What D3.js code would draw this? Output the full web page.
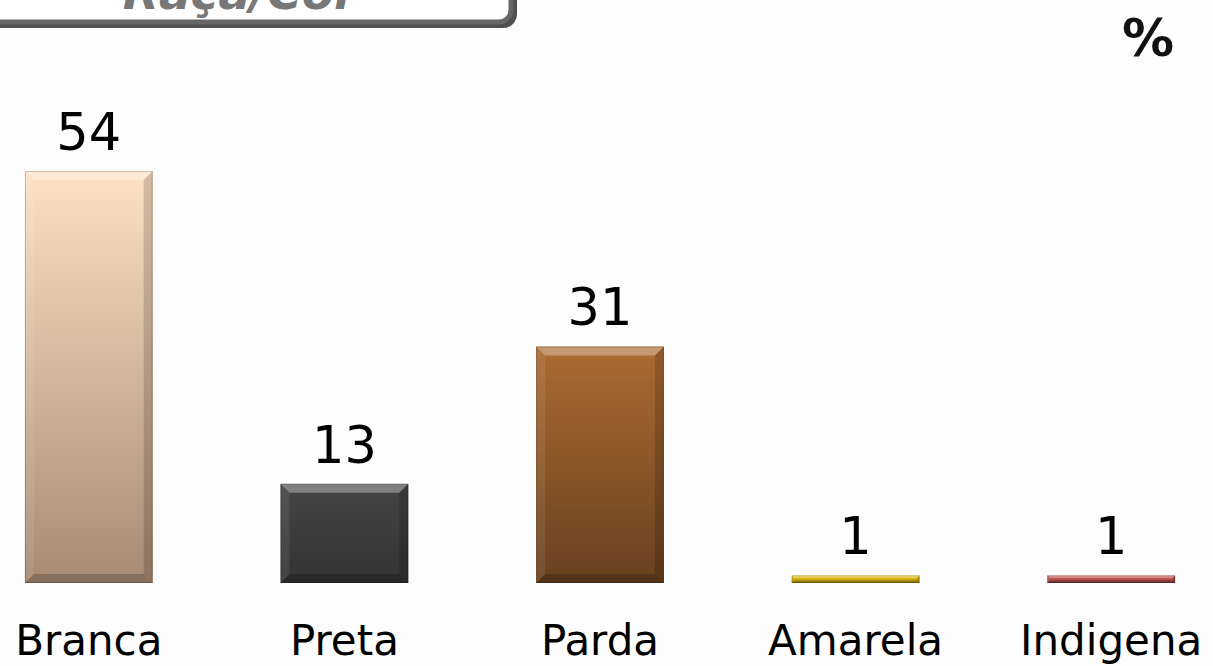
<!DOCTYPE html>
<html>
<head>
<meta charset="utf-8">
<script src="https://cdn.jsdelivr.net/npm/d3@7"></script>
<style>
  body { margin: 0; background: #fdfdfd; }
  svg { display: block; font-family: "DejaVu Sans", Verdana, sans-serif; }
</style>
</head>
<body>
<script>
// dados
const categories = ["Branca", "Preta", "Parda", "Amarela", "Indigena"];
const values = [54, 13, 31, 1, 1];
const topColors = ["#fde1c2", "#454545", "#ad6b31", "#f7d21a", "#d96464"];
const bottomColors = ["#a78a74", "#333333", "#684120", "#a88500", "#8e3a3a"];

const W = 1213, H = 666;
const baseline = 583;

const svg = d3.select("body").append("svg")
  .attr("width", W).attr("height", H);

const defs = svg.append("defs");
categories.forEach((c, i) => {
  const g = defs.append("linearGradient")
    .attr("id", "grad" + i)
    .attr("x1", 0).attr("y1", 0).attr("x2", 0).attr("y2", 1);
  g.append("stop").attr("offset", "0%").attr("stop-color", topColors[i]);
  g.append("stop").attr("offset", "100%").attr("stop-color", bottomColors[i]);
});

// caixa do titulo (cortada no topo)
svg.append("rect")
  .attr("x", -30).attr("y", -70)
  .attr("width", 547).attr("height", 98)
  .attr("rx", 14)
  .attr("fill", "#505050");
svg.append("rect")
  .attr("x", -30).attr("y", -70)
  .attr("width", 541).attr("height", 92)
  .attr("rx", 12)
  .attr("fill", "#fff")
  .attr("stroke", "#666")
  .attr("stroke-width", 5);
svg.append("text")
  .attr("x", 240).attr("y", 9)
  .attr("text-anchor", "middle")
  .attr("font-size", 47)
  .attr("font-weight", "bold")
  .attr("font-style", "italic")
  .attr("fill", "#777")
  .text("Raça/Cor");

svg.append("text")
  .attr("x", 1148).attr("y", 56)
  .attr("text-anchor", "middle")
  .attr("font-size", 52)
  .attr("font-weight", "bold")
  .attr("fill", "#111")
  .text("%");

const x = d3.scaleBand()
  .domain(categories)
  .range([-39, 1239])
  .paddingInner(0.5)
  .paddingOuter(0.25);

const y = d3.scaleLinear()
  .domain([0, 54])
  .range([baseline, 171]);

const data = categories.map((c, i) => ({ name: c, value: values[i], i: i }));

const bars = svg.selectAll(".bar")
  .data(data)
  .enter()
  .append("g")
  .attr("class", "bar");

bars.each(function (d) {
  const g = d3.select(this);
  const x0 = x(d.name), w = x.bandwidth();
  const y0 = y(d.value), h = baseline - y0;
  const b = Math.min(9, h / 3);
  g.append("rect")
    .attr("x", x0).attr("y", y0)
    .attr("width", w).attr("height", h)
    .attr("fill", "url(#grad" + d.i + ")");
  // bisel
  const x1 = x0 + w, y1 = baseline;
  g.append("polygon")
    .attr("points", [[x0, y0], [x1, y0], [x1 - b, y0 + b], [x0 + b, y0 + b]].join(" "))
    .attr("fill", "#fff").attr("opacity", 0.32);
  g.append("polygon")
    .attr("points", [[x0, y0], [x0 + b, y0 + b], [x0 + b, y1 - b], [x0, y1]].join(" "))
    .attr("fill", "#fff").attr("opacity", 0.08);
  g.append("polygon")
    .attr("points", [[x1, y0], [x1, y1], [x1 - b, y1 - b], [x1 - b, y0 + b]].join(" "))
    .attr("fill", "#000").attr("opacity", 0.16);
  g.append("polygon")
    .attr("points", [[x0, y1], [x1, y1], [x1 - b, y1 - b], [x0 + b, y1 - b]].join(" "))
    .attr("fill", "#000").attr("opacity", 0.2);
  g.append("rect")
    .attr("x", x0 + 0.5).attr("y", y0 + 0.5)
    .attr("width", w - 1).attr("height", h - 1)
    .attr("fill", "none")
    .attr("stroke", "#000").attr("stroke-opacity", 0.2);
});

svg.selectAll(".value")
  .data(data)
  .enter()
  .append("text")
  .attr("class", "value")
  .attr("x", d => x(d.name) + x.bandwidth() / 2)
  .attr("y", d => y(d.value) - 21)
  .attr("text-anchor", "middle")
  .attr("font-size", 51)
  .attr("fill", "#000")
  .text(d => d.value);

svg.selectAll(".cat")
  .data(data)
  .enter()
  .append("text")
  .attr("class", "cat")
  .attr("x", d => x(d.name) + x.bandwidth() / 2)
  .attr("y", 655)
  .attr("text-anchor", "middle")
  .attr("font-size", 42)
  .attr("fill", "#000")
  .text(d => d.name);
</script>
</body>
</html>
